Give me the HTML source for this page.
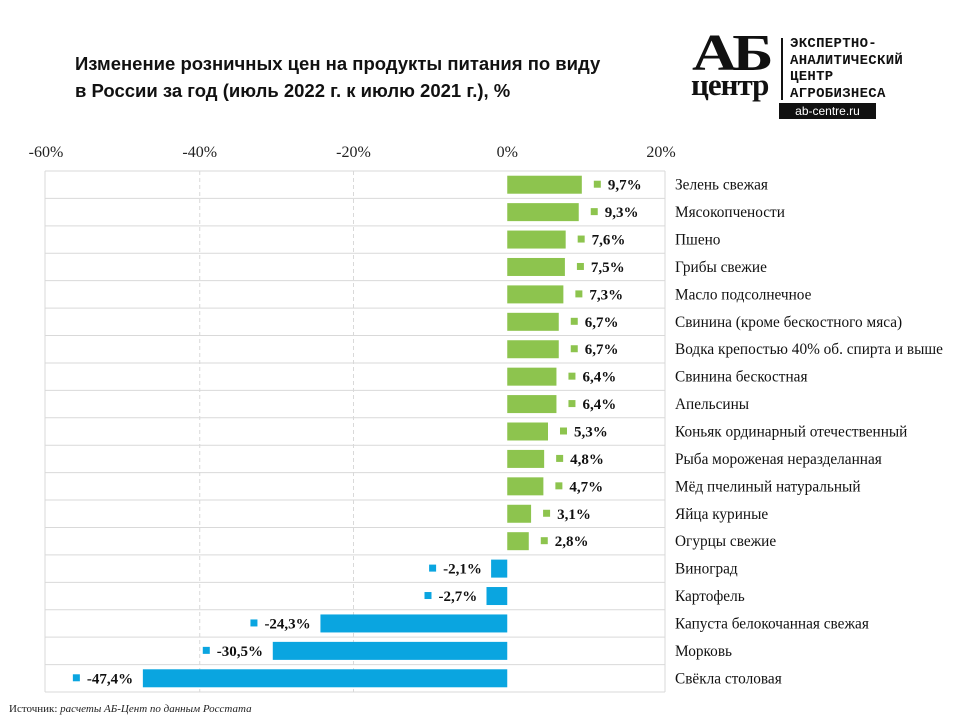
<!DOCTYPE html>
<html><head><meta charset="utf-8"><style>
body{margin:0;width:960px;height:720px;background:#fff;overflow:hidden;position:relative;font-family:"Liberation Sans",sans-serif}
.t{position:absolute;left:75px;top:50px;font-size:18.5px;font-weight:bold;line-height:27px;color:#111}
svg{position:absolute;left:0;top:0}
</style></head><body>
<div class="t">Изменение розничных цен на продукты питания по виду<br>в России за год (июль 2022 г. к июлю 2021 г.), %</div>
<div style="position:absolute;left:690px;top:34px;width:260px;height:90px">
 <div style="position:absolute;left:2px;top:-10px;font:bold 52px 'Liberation Serif',serif;letter-spacing:-4px;color:#111;transform:scaleX(1.2);transform-origin:left">АБ</div>
 <div style="position:absolute;left:1px;top:33px;font:bold 31px 'Liberation Serif',serif;color:#111;letter-spacing:-1px">центр</div>
 <div style="position:absolute;left:91px;top:4px;width:2px;height:62px;background:#111"></div>
 <div style="position:absolute;left:100px;top:2px;font:bold 14px/16.5px 'Liberation Mono',monospace;color:#111;letter-spacing:0.3px">ЭКСПЕРТНО-<br>АНАЛИТИЧЕСКИЙ<br>ЦЕНТР<br>АГРОБИЗНЕСА</div>
 <div style="position:absolute;left:89px;top:69px;width:97px;height:16px;background:#111;color:#fff;font:12px/16px 'Liberation Sans',sans-serif;text-align:center">ab-centre.ru</div>
</div>
<svg id="c" width="960" height="720"></svg>
<div style="position:absolute;left:9px;top:703px;font:11px 'Liberation Serif',serif;color:#222">Источник: <i>расчеты АБ-Цент по данным Росстата</i></div>
<script>
const categories=["Зелень свежая","Мясокопчености","Пшено","Грибы свежие","Масло подсолнечное","Свинина (кроме бескостного мяса)","Водка крепостью 40% об. спирта и выше","Свинина бескостная","Апельсины","Коньяк ординарный отечественный","Рыба мороженая неразделанная","Мёд пчелиный натуральный","Яйца куриные","Огурцы свежие","Виноград","Картофель","Капуста белокочанная свежая","Морковь","Свёкла столовая"];
const values=[9.7,9.3,7.6,7.5,7.3,6.7,6.7,6.4,6.4,5.3,4.8,4.7,3.1,2.8,-2.1,-2.7,-24.3,-30.5,-47.4];
const ticks=[-60,-40,-20,0,20];
const NS="http://www.w3.org/2000/svg";
const svg=document.getElementById('c');
const x0=46,x1=661,vmin=-60,vmax=20,top0=171,bot=692,boxR=665;
const rowH=(bot-top0)/categories.length;
const X=v=>x0+(v-vmin)/(vmax-vmin)*(x1-x0);
const Y=i=>top0+i*rowH;
function el(t,a){const e=document.createElementNS(NS,t);for(const k in a)e.setAttribute(k,a[k]);svg.appendChild(e);return e;}
ticks.forEach(t=>{
 if(t>vmin&&t<vmax&&t!==0){const g=el('line',{x1:X(t),x2:X(t),y1:top0,y2:bot,stroke:'#d9d9d9','stroke-dasharray':'4,3'});
 
 }
 const tx=el('text',{x:X(t),y:157,'text-anchor':'middle','font-family':'Liberation Serif,serif','font-size':16,fill:'#222'});
 tx.textContent=t+'%';
 
 
});
for(let i=0;i<=categories.length;i++){const l=el('line',{x1:45,x2:boxR,y1:Y(i),y2:Y(i),stroke:'#d9d9d9'});
 
 }
[45,boxR].forEach(xx=>{const l=el('line',{x1:xx,x2:xx,y1:top0,y2:bot,stroke:'#d9d9d9'});
 
 });
values.forEach((v,i)=>{
 const cy=Y(i)+rowH/2,col=v>=0?'#8dc44e':'#0aa5e0';
 const xa=Math.min(X(0),X(v)),w=Math.abs(X(v)-X(0));
 const b=el('rect',{x:xa,y:cy-9,width:w,height:18,fill:col});
 
 
 const lab=v.toFixed(1).replace('.',',')+'%';
 const tw=lab.length*8;
 let tx0=v>=0?X(v)+26:X(v)-tw-8;
 const m=el('rect',{x:tx0-14,y:cy-4,width:7,height:7,fill:col});
 
 
 const t=el('text',{x:tx0,y:cy+5,'font-family':'Liberation Serif,serif','font-size':15,'font-weight':'bold',fill:'#111'});
 t.textContent=lab;
 
 
 const c=el('text',{x:675,y:cy+5,'font-family':'Liberation Serif,serif','font-size':15.3,fill:'#111',textLength:0});
 c.removeAttribute('textLength');
 c.textContent=categories[i];
 
 
});
</script>
</body></html>
